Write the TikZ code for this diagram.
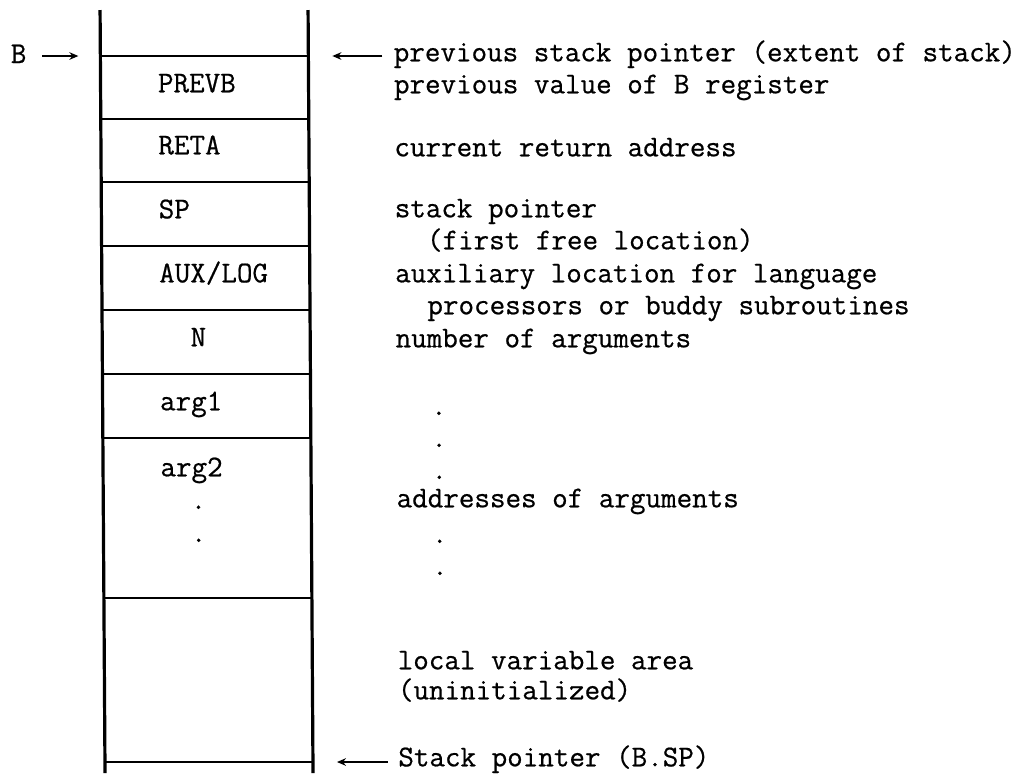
\documentclass[tikz,border=0pt]{standalone}
\usepackage{fontspec}
\setmonofont{Latin Modern Mono}[FakeBold=0.6]
\usetikzlibrary{arrows.meta}
\begin{document}
\begin{tikzpicture}[x=0.5pt,y=-0.5pt,
  every node/.style={font=\fontsize{15.1}{16}\selectfont\ttfamily, inner sep=0pt},
  frame/.style={line width=1.6pt},
  rule/.style={line width=1.3pt},
  ptr/.style={line width=0.9pt,-{Stealth[length=4.5pt,width=3.8pt]}},
  note/.style={anchor=mid west},
  cell/.style={anchor=mid west},
  dot/.style={anchor=base west}]
\useasboundingbox (0,0) rectangle (1035,773);

\begin{scope}[xslant=-0.0065]
% stack frame: two uprights and the cell boundaries
\draw[frame] (100,10) -- (100,773);
\draw[frame] (308,10) -- (308,773);
\foreach \y in {56,119,182,246,310,374,438,598,762}
  \draw[rule] (100,\y) -- (308,\y);

% cell contents
\node[cell] (prevb) at (157,88)  {PREVB};
\node[cell] (reta)  at (157,150) {RETA};
\node[cell] (sp)    at (157,214) {SP};
\node[cell] (aux)   at (157,278) {AUX/LOG};
\node[cell] (nargs) at (188,342) {N};
\node[cell] (arg1)  at (157,406) {arg1};
\node[cell] (arg2)  at (157,472) {arg2};
\node[dot]  (ad1)   at (187,509) {.};
\node[dot]  (ad2)   at (187,542) {.};

% base register pointer
\node[anchor=base west] (B) at (10,63) {B};
\coordinate (Btail) at (42,56);
\coordinate (Bhead) at (78,56);
\draw[ptr] (Btail) -- (Bhead);

% descriptions
\node[note] (d1)  at (393,57)  {previous stack pointer (extent of stack)};
\node[note] (d2)  at (393,89)  {previous value of B register};
\node[note] (d3)  at (393,152) {current return address};
\node[note] (d4)  at (393,213) {stack pointer};
\node[note] (d5)  at (425,245) {(first free location)};
\node[note] (d6)  at (393,278) {auxiliary location for language};
\node[note] (d7)  at (425,310) {processors or buddy subroutines};
\node[note] (d8)  at (393,343) {number of arguments};
\node[dot]  (e1)  at (428,415) {.};
\node[dot]  (e2)  at (428,447) {.};
\node[dot]  (e3)  at (428,479) {.};
\node[note] (d9)  at (393,503) {addresses of arguments};
\node[dot]  (e4)  at (428,543) {.};
\node[dot]  (e5)  at (428,575) {.};
\node[note] (d10) at (393,665) {local variable area};
\node[note] (d11) at (393,695) {(uninitialized)};
\node[note] (d12) at (393,762) {Stack pointer (B.SP)};

% pointer arrows on the right
\coordinate (prevtail) at (382,56);
\coordinate (prevhead) at (332,56);
\draw[ptr] (prevtail) -- (prevhead);
\coordinate (bsptail) at (383,762);
\coordinate (bsphead) at (332,762);
\draw[ptr] (bsptail) -- (bsphead);
\end{scope}
\end{tikzpicture}
\end{document}
